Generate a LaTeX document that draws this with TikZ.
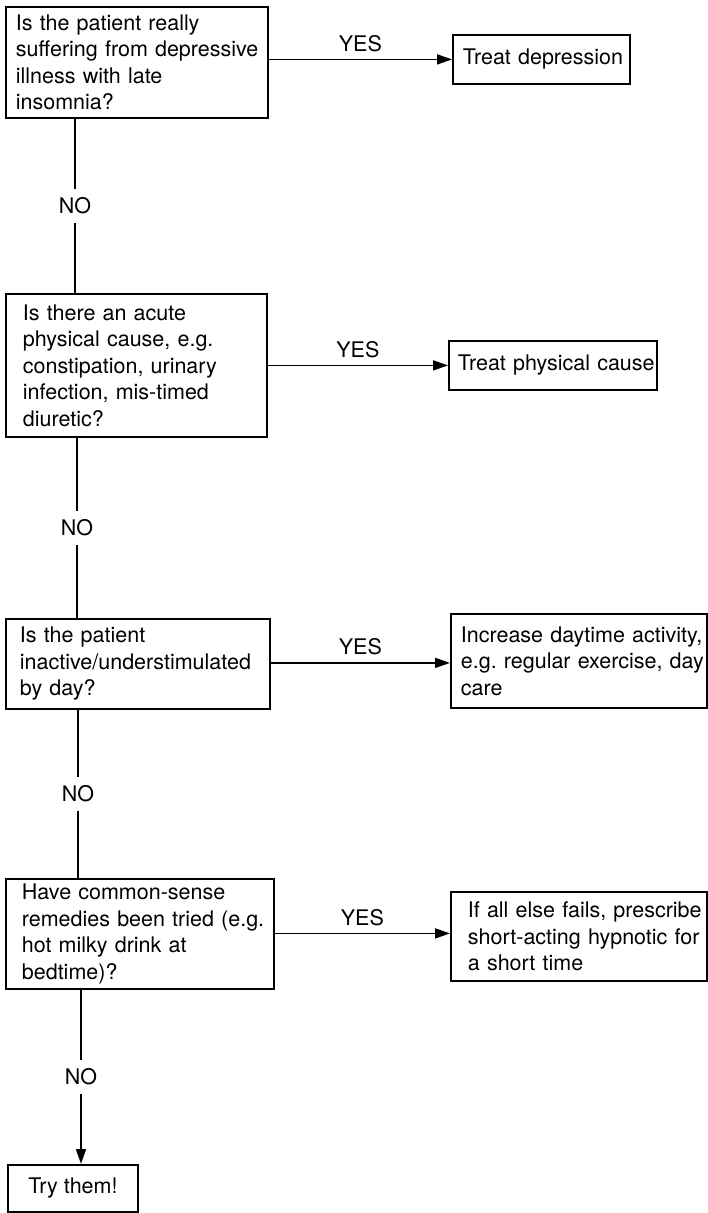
\documentclass[tikz,border=0pt]{standalone}
\usepackage{fontspec}
\setmainfont{TeX Gyre Heros}
\usetikzlibrary{arrows.meta}
\frenchspacing
\begin{document}
\begin{tikzpicture}[x=1pt, y=-1pt,
  every node/.style={font=\fontsize{21.5}{26.5}\selectfont},
  box/.style={draw, line width=1.8pt, anchor=north west, align=left,
    inner ysep=0pt},
  link/.style={line width=1.8pt},
  arr/.style={line width=1.8pt, -{Triangle[length=15pt, width=10pt]}},
  yes/.style={above=5pt, inner sep=2pt},
  no/.style={fill=white, inner xsep=2pt, inner ysep=9pt}]
\useasboundingbox (0,0) rectangle (708,1213);

% question boxes down the left side
\node[box, inner xsep=10pt, text width=242pt, minimum height=111pt] (q1) at (5,6)
  {\mbox{Is the patient really}\\\mbox{suffering from depressive}\\
   \mbox{illness with late}\\\mbox{insomnia?}};
\node[box, inner xsep=17pt, text width=227pt, minimum height=143pt] (q2) at (5,293)
  {\mbox{Is there an acute}\\\mbox{physical cause, e.g.}\\
   \mbox{constipation, urinary}\\\mbox{infection, mis-timed}\\\mbox{diuretic?}};
\node[box, inner xsep=14pt, text width=236pt, minimum height=90pt] (q3) at (5,618)
  {\mbox{Is the patient}\\\mbox{inactive/understimulated}\\\mbox{by day?}};
\node[box, inner xsep=16pt, text width=236pt, minimum height=110pt] (q4) at (5,878)
  {\mbox{Have common-sense}\\\mbox{remedies been tried (e.g.}\\
   \mbox{hot milky drink at}\\\mbox{bedtime)?}};
\node[box, align=center, minimum width=130pt, minimum height=47pt] (q5) at (7,1164)
  {Try them!};

% action boxes on the right
\node[box, inner xsep=10pt, text width=157pt, minimum height=49pt] (d1) at (452,34)
  {\mbox{Treat depression}};
\node[box, inner xsep=9pt, text width=190pt, minimum height=49pt] (d2) at (448,340)
  {\mbox{Treat physical cause}};
\node[box, inner xsep=10pt, text width=236pt, minimum height=94pt] (d3) at (450,613)
  {\mbox{Increase daytime activity,}\\\mbox{e.g. regular exercise, day}\\\mbox{care}};
\node[box, inner xsep=17pt, text width=222pt, minimum height=89pt] (d4) at (450,891)
  {\mbox{If all else fails, prescribe}\\\mbox{short-acting hypnotic for}\\
   \mbox{a short time}};

% YES branches
\draw[arr] (q1.east |- d1.west) -- node[yes] {YES} (d1.west);
\draw[arr] (q2.east |- d2.west) -- node[yes] {YES} (d2.west);
\draw[arr] ([yshift=-2pt]q3.east |- d3.west) -- node[yes] {YES} ([yshift=-2pt]d3.west);
\draw[arr] ([yshift=3pt]q4.east |- d4.west) -- node[yes] {YES} ([yshift=3pt]d4.west);

% NO branches
\draw[link] ([xshift=70pt]q1.south west) -- node[no] {NO} ([xshift=70pt]q2.north west);
\draw[link] ([xshift=72pt]q2.south west) -- node[no] {NO} ([xshift=72pt]q3.north west);
\draw[link] ([xshift=73pt]q3.south west) -- node[no] {NO} ([xshift=73pt]q4.north west);
\draw[arr] ([xshift=76pt]q4.south west) -- node[no] {NO} ([xshift=74pt]q5.north west);
\end{tikzpicture}
\end{document}
